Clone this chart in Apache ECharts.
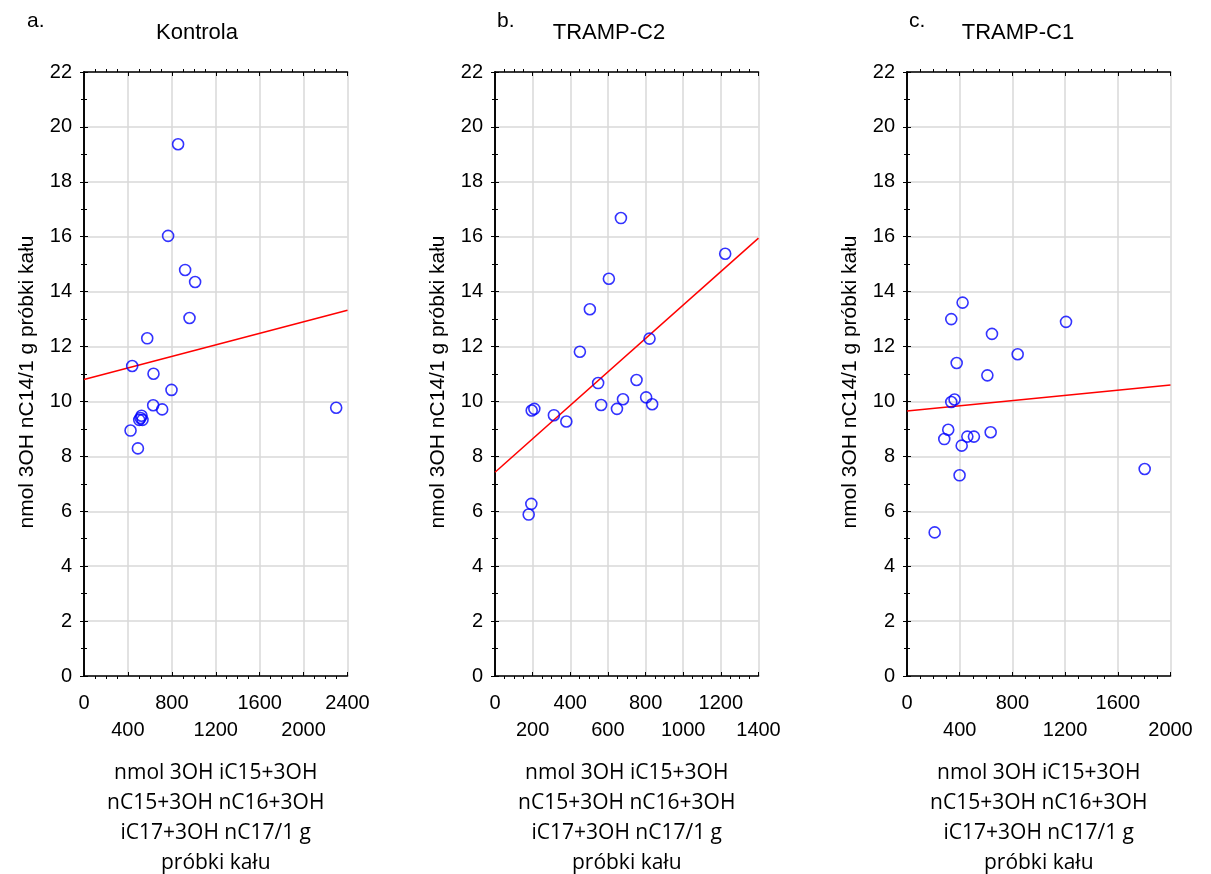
<!DOCTYPE html>
<html>
<head>
<meta charset="utf-8">
<title>3OH nC14 vs 3OH iC15-nC17</title>
<script src="https://cdn.jsdelivr.net/npm/echarts@6/dist/echarts.min.js"></script>
<style>
  html, body { margin: 0; padding: 0; background: #fff; }
  #chart { width: 1211px; height: 874px; }
</style>
</head>
<body>
<div id="chart"></div>
<script>
// a. Kontrola
const kontrolaX = [857, 766, 921, 1012, 961, 576, 439, 633, 797, 630, 712, 524, 503, 533, 515, 424, 491, 2297]
const kontrolaY = [19.37, 16.03, 14.79, 14.35, 13.04, 12.30, 11.29, 11.01, 10.42, 9.86, 9.71, 9.48, 9.33, 9.33, 9.40, 8.94, 8.29, 9.77]
const kontrolaFit = [[0, 10.8], [2400, 13.32]]

// b. TRAMP-C2
const trampC2X = [669, 1223, 605, 504, 821, 451, 548, 752, 564, 648, 680, 803, 835, 195, 209, 313, 379, 193, 179]
const trampC2Y = [16.68, 15.38, 14.47, 13.36, 12.29, 11.81, 10.67, 10.78, 9.87, 9.73, 10.08, 10.15, 9.90, 9.67, 9.73, 9.50, 9.27, 6.27, 5.88]
const trampC2Fit = [[0, 7.42], [1400, 15.95]]

// c. TRAMP-C1
const trampC1X = [422, 336, 1207, 645, 840, 377, 610, 361, 336, 313, 283, 458, 508, 635, 415, 399, 1804, 210]
const trampC1Y = [13.60, 13.0, 12.90, 12.46, 11.72, 11.40, 10.95, 10.07, 9.98, 8.97, 8.63, 8.72, 8.72, 8.88, 8.39, 7.31, 7.54, 5.23]
const trampC1Fit = [[0, 9.65], [2000, 10.6]]

const letters = ['a.', 'b.', 'c.']
const titles = ['Kontrola', 'TRAMP-C2', 'TRAMP-C1']
const xMaxes = [2400, 1400, 2000]
const xIntervals = [400, 200, 400]
const yTicks = [0, 22, 2]
const yName = 'nmol 3OH nC14/1 g próbki kału'
const xName = 'nmol 3OH iC15+3OH\nnC15+3OH nC16+3OH\niC17+3OH nC17/1 g\npróbki kału'

const panels = [
  { x: kontrolaX, y: kontrolaY, fit: kontrolaFit, left: 84, letterX: 22, titleX: 192 },
  { x: trampC2X, y: trampC2Y, fit: trampC2Fit, left: 495, letterX: 492, titleX: 604 },
  { x: trampC1X, y: trampC1Y, fit: trampC1Fit, left: 907, letterX: 904, titleX: 1013 }
]
const plotW = 263.5
const plotTop = 72
const plotH = 604

const tickFont = 'Liberation Sans, Arial, sans-serif'
const frame = { show: true, lineStyle: { color: '#000', width: 1.6 } }
const tickIn = { show: true, inside: true, length: 4, lineStyle: { color: '#000', width: 1 } }
// minor ticks do not follow axisTick.inside, so flip them with a negative length
const minorIn = (n) => ({ show: true, splitNumber: n, length: -3, lineStyle: { color: '#000', width: 1 } })
const labelStyle = { fontSize: 20, color: '#000', fontFamily: tickFont, showMinLabel: true, showMaxLabel: true, hideOverlap: false }

const grid = []
const xAxis = []
const yAxis = []
const series = []
const title = []

panels.forEach((p, i) => {
  grid.push({ left: p.left, top: plotTop, width: plotW, height: plotH, outerBoundsMode: 'none', containLabel: false })

  const xBase = { type: 'value', gridIndex: i, min: 0, max: xMaxes[i], interval: xIntervals[i] }
  const yBase = { type: 'value', gridIndex: i, min: yTicks[0], max: yTicks[1], interval: yTicks[2] }
  const upperRow = (v) => (v / xIntervals[i]) % 2 === 0

  // bottom x axis, upper row of labels
  xAxis.push(Object.assign({}, xBase, {
    position: 'bottom',
    axisLine: frame,
    axisTick: tickIn,
    minorTick: minorIn(4),
    splitLine: { show: true, lineStyle: { color: '#d9d9d9', width: 1.5 } },
    axisLabel: Object.assign({}, labelStyle, {
      margin: 17,
      formatter: (v) => (upperRow(v) ? String(v) : '')
    }),
    name: xName,
    nameLocation: 'middle',
    nameGap: 82,
    nameTextStyle: { fontFamily: 'Open Sans', fontSize: 21, color: '#000', lineHeight: 30 }
  }))
  // lower row of labels
  xAxis.push(Object.assign({}, xBase, {
    position: 'bottom',
    axisLine: { show: false },
    axisTick: { show: false },
    splitLine: { show: false },
    axisLabel: Object.assign({}, labelStyle, {
      margin: 44,
      formatter: (v) => (upperRow(v) ? '' : String(v))
    })
  }))
  // top mirror
  xAxis.push(Object.assign({}, xBase, {
    position: 'top',
    axisLine: frame,
    axisTick: tickIn,
    minorTick: minorIn(4),
    splitLine: { show: false },
    axisLabel: { show: false }
  }))

  yAxis.push(Object.assign({}, yBase, {
    position: 'left',
    axisLine: frame,
    axisTick: tickIn,
    minorTick: minorIn(2),
    splitLine: { show: true, lineStyle: { color: '#d9d9d9', width: 1.5 } },
    axisLabel: Object.assign({}, labelStyle, { margin: 12 }),
    name: yName,
    nameLocation: 'middle',
    nameGap: 46,
    nameTextStyle: { fontFamily: tickFont, fontSize: 21, color: '#000', padding: [0, 16, 0, 0] }
  }))
  yAxis.push(Object.assign({}, yBase, {
    position: 'right',
    axisLine: frame,
    axisTick: tickIn,
    minorTick: minorIn(2),
    splitLine: { show: false },
    axisLabel: { show: false }
  }))

  series.push({
    type: 'scatter',
    xAxisIndex: i * 3,
    yAxisIndex: i * 2,
    symbol: 'circle',
    symbolSize: 11,
    itemStyle: { color: 'transparent', borderColor: '#0000ff', borderWidth: 1.6 },
    data: p.x.map((v, k) => [v, p.y[k]]),
    z: 3
  })
  series.push({
    type: 'line',
    xAxisIndex: i * 3,
    yAxisIndex: i * 2,
    showSymbol: false,
    lineStyle: { color: '#ff0000', width: 1.5 },
    data: p.fit,
    z: 2
  })

  title.push({
    text: letters[i],
    left: p.letterX,
    top: 6,
    textStyle: { fontFamily: tickFont, fontSize: 21, fontWeight: 'normal', color: '#000' }
  })
  title.push({
    text: titles[i],
    left: p.titleX,
    top: 17,
    textAlign: 'center',
    textStyle: { fontFamily: tickFont, fontSize: 22, fontWeight: 'normal', color: '#000' }
  })
})

const myChart = echarts.init(document.getElementById('chart'), null, { renderer: 'canvas' })
myChart.setOption({
  animation: false,
  backgroundColor: '#fff',
  title: title,
  grid: grid,
  xAxis: xAxis,
  yAxis: yAxis,
  series: series
})
</script>
</body>
</html>
